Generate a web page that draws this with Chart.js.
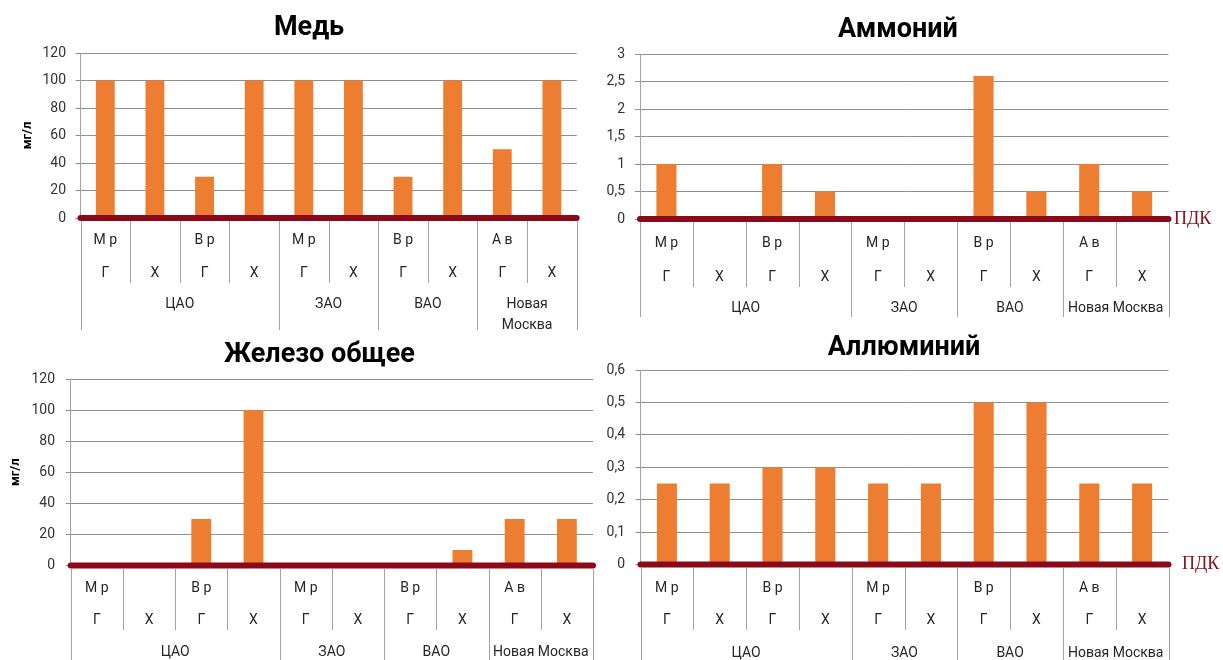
<!DOCTYPE html>
<html>
<head>
<meta charset="utf-8">
<script src="https://cdn.jsdelivr.net/npm/chart.js@4.4.0/dist/chart.umd.min.js"></script>
<style>
  html, body { margin: 0; padding: 0; background: #fff; width: 1223px; height: 660px; overflow: hidden; }
  canvas { position: absolute; }
</style>
</head>
<body>
<canvas id="c1"></canvas>
<canvas id="c2"></canvas>
<canvas id="c3"></canvas>
<canvas id="c4"></canvas>
<script>
// подписи категорий (три уровня)
const sites = ['М р', '', 'В р', '', 'М р', '', 'В р', '', 'А в', ''];
const types = ['Г', 'Х', 'Г', 'Х', 'Г', 'Х', 'Г', 'Х', 'Г', 'Х'];
const districts = ['ЦАО', 'ЗАО', 'ВАО', 'Новая Москва'];
const districtSpans = [4, 2, 2, 2];

// значения, мг/л
const copper = [100, 100, 30, 100, 100, 100, 30, 100, 50, 100];
const ammonium = [1, 0, 1, 0.5, 0, 0, 2.6, 0.5, 1, 0.5];
const iron = [0, 0, 30, 100, 0, 0, 0, 10, 30, 30];
const aluminium = [0.25, 0.25, 0.3, 0.3, 0.25, 0.25, 0.5, 0.5, 0.25, 0.25];

// деления осей
const copperTicks = [0, 20, 40, 60, 80, 100, 120];
const ammoniumTicks = [0, 0.5, 1, 1.5, 2, 2.5, 3];
const ironTicks = [0, 20, 40, 60, 80, 100, 120];
const aluminiumTicks = [0, 0.1, 0.2, 0.3, 0.4, 0.5, 0.6];

// уровень ПДК (линия по нулю)
const pdkLevel = 0;

const FONT = 'Roboto, "DejaVu Sans", sans-serif';
const BAR = '#ED7D31';
const PDK_COLOR = '#8B0A1A';
const GRID = '#8e8e8e';
const SEP = '#a3a3a3';

const multiLevelAxis = {
    id: 'multiLevelAxis',
    afterDraw(chart, args, opts) {
        if (!opts.rows) return;
        const { ctx, chartArea } = chart;
        const x = chart.scales.x;
        const base = chartArea.bottom;
        const n = opts.rows[0].length;
        const step = x.getPixelForValue(1) - x.getPixelForValue(0);
        const edge = i => x.getPixelForValue(i) - step / 2;

        const groupEdges = new Set([0]);
        let acc = 0;
        opts.spans.forEach(s => { acc += s; groupEdges.add(acc); });

        ctx.save();
        ctx.strokeStyle = SEP;
        ctx.lineWidth = 1;
        for (let i = 0; i <= n; i++) {
            const px = Math.round(edge(i)) + 0.5;
            const len = groupEdges.has(i) ? opts.outerBottom : opts.innerBottom;
            ctx.beginPath();
            ctx.moveTo(px, base + 3);
            ctx.lineTo(px, base + len);
            ctx.stroke();
        }

        ctx.fillStyle = '#262626';
        ctx.font = '14px ' + FONT;
        ctx.textAlign = 'center';
        ctx.textBaseline = 'middle';
        opts.rows.forEach((row, r) => {
            row.forEach((t, i) => {
                if (t) ctx.fillText(t, x.getPixelForValue(i), base + opts.rowY[r]);
            });
        });

        let start = 0;
        opts.groups.forEach((g, k) => {
            const cx = (edge(start) + edge(start + opts.spans[k])) / 2;
            const lines = opts.wrap ? g.split(' ') : [g];
            lines.forEach((l, j) => ctx.fillText(l, cx, base + opts.groupY + j * 21));
            start += opts.spans[k];
        });

        if (opts.pdkLabel) {
            const meta = chart.getDatasetMeta(1);
            const pt = meta.data[meta.data.length - 1];
            ctx.font = '18px "Liberation Serif", serif';
            ctx.fillStyle = PDK_COLOR;
            ctx.textAlign = 'left';
            ctx.fillText(opts.pdkLabel, pt.x + opts.pdkGap, pt.y);
        }
        ctx.restore();
    }
};
Chart.register(multiLevelAxis);

function makeChart(id, title, values, ticks, g) {
    const canvas = document.getElementById(id);
    canvas.width = g.w;
    canvas.height = g.h;
    canvas.style.left = g.left + 'px';
    canvas.style.top = g.top + 'px';

    const titleSize = 27;
    const lh = titleSize * 1.2;

    return new Chart(canvas, {
        type: 'bar',
        data: {
            labels: types.map((t, i) => (sites[i] + ' ' + t).trim()),
            datasets: [{
                data: values,
                backgroundColor: BAR,
                borderWidth: 0,
                barPercentage: 0.38,
                categoryPercentage: 1,
                grouped: false,
                order: 1
            }, {
                type: 'line',
                data: [{ x: 0, y: pdkLevel }, { x: 1, y: pdkLevel }],
                xAxisID: 'xl',
                borderColor: PDK_COLOR,
                borderWidth: 6,
                borderCapStyle: 'round',
                pointRadius: 0,
                clip: false,
                order: 0
            }]
        },
        options: {
            responsive: false,
            animation: false,
            devicePixelRatio: 1,
            layout: { padding: 0 },
            plugins: {
                legend: { display: false },
                tooltip: { enabled: false },
                title: {
                    display: true,
                    text: title,
                    color: '#000',
                    font: { family: FONT, size: titleSize, weight: 'bold' },
                    padding: { top: g.titleCenter - lh / 2, bottom: g.plotTop - g.titleCenter - lh / 2 }
                },
                multiLevelAxis: {
                    rows: [sites, types],
                    groups: districts,
                    spans: districtSpans,
                    rowY: g.rowY,
                    innerBottom: g.innerBottom,
                    groupY: g.groupY,
                    outerBottom: g.outerBottom,
                    wrap: g.wrap,
                    pdkLabel: g.pdkGap !== undefined ? 'ПДК' : null,
                    pdkGap: g.pdkGap
                }
            },
            scales: {
                x: {
                    type: 'category',
                    grid: { display: false },
                    border: { display: false },
                    ticks: { display: false },
                    afterFit: s => { s.height = g.h - g.plotBottom; }
                },
                xl: {
                    type: 'linear',
                    axis: 'x',
                    display: false,
                    offset: false,
                    grid: { offset: false },
                    min: 0,
                    max: 1
                },
                y: {
                    min: ticks[0],
                    max: ticks[ticks.length - 1],
                    afterBuildTicks: s => { s.ticks = ticks.map(v => ({ value: v })); },
                    grid: { color: GRID, tickLength: 5 },
                    border: { display: true, color: SEP },
                    ticks: {
                        padding: g.tickPad,
                        color: '#333',
                        font: { family: FONT, size: 14 },
                        callback: v => String(v).replace('.', ',')
                    },
                    title: {
                        display: g.yTitlePad !== undefined,
                        text: 'мг/л',
                        color: '#000',
                        font: { family: FONT, size: 13, weight: 'bold' },
                        padding: { top: g.yTitlePad || 0, bottom: 0 }
                    },
                    afterFit: s => { s.width = g.yWidth; }
                },
                yr: {
                    type: 'linear',
                    position: 'right',
                    grid: { display: false },
                    border: { display: false },
                    ticks: { display: false },
                    afterFit: s => { s.width = g.rightWidth; }
                }
            }
        }
    });
}

makeChart('c1', 'Медь', copper, copperTicks, {
    left: 0, top: 0, w: 618, h: 335, yWidth: 80.5, rightWidth: 41.3, tickPad: 9.5,
    titleCenter: 28, plotTop: 53, plotBottom: 218, yTitlePad: 19.7,
    rowY: [22, 55], innerBottom: 65, groupY: 86, outerBottom: 112, wrap: true
});
makeChart('c2', 'Аммоний', ammonium, ammoniumTicks, {
    left: 576, top: 0, w: 644, h: 325, yWidth: 64, rightWidth: 51.5, tickPad: 10,
    titleCenter: 30, plotTop: 54, plotBottom: 219,
    rowY: [24, 58], innerBottom: 68, groupY: 89, outerBottom: 98, pdkGap: 5.5
});
makeChart('c3', 'Железо общее', iron, ironTicks, {
    left: 0, top: 335, w: 639, h: 325, yWidth: 70.7, rightWidth: 46, tickPad: 10.7,
    titleCenter: 20, plotTop: 44, plotBottom: 230.5, yTitlePad: 8.2,
    rowY: [22.5, 54.5], innerBottom: 64.5, groupY: 86.5, outerBottom: 95
});
makeChart('c4', 'Аллюминий', aluminium, aluminiumTicks, {
    left: 576, top: 330, w: 656, h: 330, yWidth: 64.5, rightWidth: 63.5, tickPad: 10.5,
    titleCenter: 18, plotTop: 40, plotBottom: 234.5,
    rowY: [23.5, 55.5], innerBottom: 65.5, groupY: 88.5, outerBottom: 96, pdkGap: 13.5
});
</script>
</body>
</html>
